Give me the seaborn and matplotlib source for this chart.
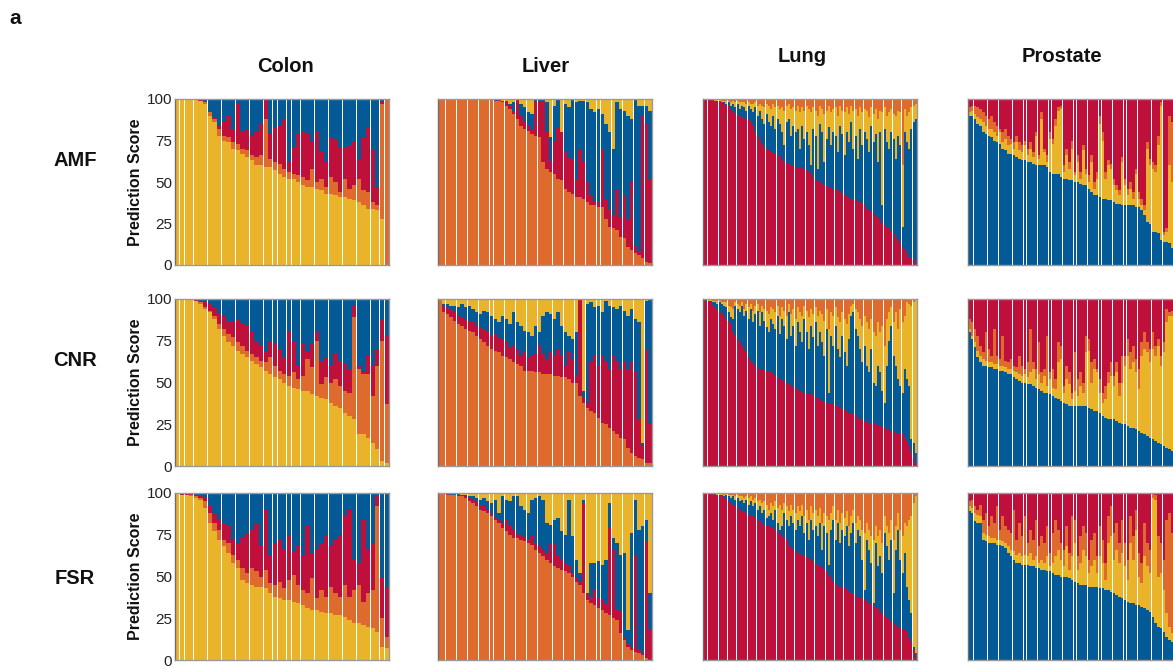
import numpy as np
import matplotlib
matplotlib.use("Agg")
import matplotlib.pyplot as plt
import seaborn as sns

# ---------------------------------------------------------------------------
# Tissue classes and colours
tissues = ["Colon", "Liver", "Lung", "Prostate"]
methods = ["AMF", "CNR", "FSR"]
tissue_colors = {"Colon": "#EAB42A", "Liver": "#DE6A2E", "Lung": "#BF0F3B", "Prostate": "#045A96"}

# Cumulative prediction-score boundaries (%) per sample, bottom to top.
# c1 = true-class score, c2 / c3 = tops of the next two stacked classes;
# the remaining class fills the bar up to 100.

# Colon
colon_amf_c1 = [100,100,100,100,100,99,97,90,86,78,75,74,70,69,67,65,63,60,60,59,59,57,55,53,52,52,50,48,47,47,46,45,43,43,42,41,41,40,39,38,36,34,34,33,28,0]
colon_amf_c2 = [100,100,100,100,100,99,98,92,88,82,78,77,74,73,70,69,66,65,66,88,64,62,61,58,56,55,54,53,51,58,50,52,47,53,50,44,52,46,48,52,45,44,38,36,97,100]
colon_amf_c3 = [100,100,100,100,100,100,99,93,89,84,87,90,82,97,80,82,78,80,85,100,79,83,84,88,62,71,79,80,79,74,80,68,62,77,76,71,71,72,75,63,77,83,70,47,98,100]

colon_cnr_c1 = [100,100,100,100,99,97,94,92,88,82,78,74,72,69,67,65,63,61,59,57,55,53,52,50,48,47,46,45,45,43,42,41,40,38,36,35,32,30,28,19,19,17,14,10,3,2]
colon_cnr_c2 = [100,100,100,100,99,98,95,93,90,85,82,79,77,74,72,69,67,65,63,62,65,60,57,55,54,56,52,54,64,59,75,49,53,50,52,48,45,44,89,58,55,55,42,60,75,37]
colon_cnr_c3 = [100,100,100,100,100,99,98,97,95,91,90,87,86,88,85,84,80,75,72,68,74,73,70,65,80,74,60,73,68,73,80,63,65,60,67,63,61,58,96,60,57,66,60,70,88,78]

colon_fsr_c1 = [100,99,99,98,97,96,91,82,77,72,68,64,58,55,48,46,45,44,44,43,40,38,37,36,36,35,34,33,31,30,30,29,28,28,27,27,26,24,22,22,21,20,19,17,8,7]
colon_fsr_c2 = [100,99,99,99,98,97,95,88,82,78,72,70,63,60,55,52,55,53,50,54,46,45,47,43,48,51,45,42,40,49,37,42,38,44,40,38,45,38,42,45,35,40,42,92,25,14]
colon_fsr_c3 = [100,100,100,100,99,99,97,92,88,84,82,80,72,70,73,76,78,82,68,90,62,70,72,66,74,65,68,62,80,64,66,70,74,68,72,75,86,90,60,58,84,66,70,98,49,44]

# Liver
liver_amf_c1 = [100,100,100,100,100,100,100,100,100,100,100,100,100,100,100,99,99,98,96,94,91,88,84,82,81,79,78,77,62,58,56,55,52,51,46,44,43,41,41,40,38,36,36,35,35,28,23,22,21,17,16,11,9,7,6,4,2,1]
liver_amf_c2 = [100,100,100,100,100,100,100,100,100,100,100,100,100,100,100,99,100,99,98,96,93,100,90,87,84,82,99,98,98,80,62,75,83,80,68,65,64,52,70,62,50,42,38,38,70,40,34,30,45,29,42,27,50,12,8,90,85,52]
liver_amf_c3 = [100,100,100,100,100,100,100,100,100,100,100,100,100,100,100,100,100,99,99,97,98,100,97,95,92,91,100,100,100,98,77,96,100,72,97,95,100,98,99,99,98,94,92,94,91,85,80,70,98,94,93,90,88,100,96,96,96,93]

liver_cnr_c1 = [100,92,91,89,87,85,84,82,81,80,78,76,74,72,70,69,68,66,65,64,62,61,60,57,57,57,56,56,55,55,55,54,54,53,53,52,50,50,42,38,35,33,32,29,26,25,23,21,19,17,16,11,8,6,5,4,2,2]
liver_cnr_c2 = [100,96,95,94,92,90,89,88,86,86,84,83,82,81,78,79,77,76,74,71,72,70,66,68,65,66,67,72,67,64,68,66,70,66,60,68,64,54,100,41,37,62,66,60,66,62,58,66,62,58,62,58,62,56,28,12,70,25]
liver_cnr_c3 = [100,97,97,96,96,95,97,95,96,94,92,91,93,92,90,88,86,90,88,85,92,86,84,81,80,78,84,80,90,92,91,88,92,84,80,78,76,80,100,45,97,98,95,96,92,99,96,95,94,96,93,90,94,88,86,14,99,100]

liver_fsr_c1 = [100,100,99,99,99,98,98,97,95,94,92,90,89,88,86,84,82,79,77,75,73,73,72,71,70,69,66,64,62,60,58,56,55,54,53,52,50,47,45,40,36,34,33,31,30,28,27,25,24,16,12,8,6,5,4,3,1,0]
liver_fsr_c2 = [100,100,100,99,99,99,99,98,97,96,95,93,92,90,88,85,84,82,84,80,78,76,75,73,72,74,70,68,66,64,70,70,62,60,58,56,52,50,47,94,40,38,42,37,36,34,79,66,30,29,14,10,7,62,6,4,71,18]
liver_fsr_c3 = [100,100,100,100,100,100,99,99,98,98,97,96,97,95,94,96,88,98,96,95,98,98,92,90,88,96,97,98,96,82,81,84,85,77,75,96,74,60,52,96,40,58,58,59,57,60,94,73,70,63,64,18,76,96,78,80,84,40]

# Lung
lung_amf_c1 = [100,100,100,100,100,99,99,98,98,97,96,96,94,92,91,90,90,89,89,88,
               88,87,84,81,78,76,73,71,70,69,68,67,67,66,66,64,62,61,61,60,
               60,59,59,59,59,58,57,56,55,53,52,50,50,49,48,48,47,47,46,46,
               45,44,43,42,42,41,40,40,39,38,38,37,36,34,33,32,31,30,29,27,
               25,24,23,22,20,19,17,15,13,11,9,7,5,4,3,1]
lung_amf_c2 = [100,100,100,99,99,99,99,99,98,98,97,98,96,97,95,97,94,96,95,93,
               96,94,92,95,90,93,88,85,91,86,84,90,82,88,85,80,72,86,88,78,
               84,80,82,70,84,76,80,72,60,82,78,58,85,80,62,76,83,72,80,78,
               68,84,79,66,80,74,86,70,78,64,82,72,80,76,68,84,74,79,62,80,
               36,82,74,70,80,76,64,78,72,23,80,74,70,82,86,88]
lung_amf_c3 = [100,100,100,100,100,100,100,100,99,99,99,99,98,99,98,99,98,98,98,97,
               98,97,97,98,96,97,96,95,97,96,94,97,95,96,94,95,93,96,97,94,
               95,93,96,92,95,93,96,94,92,95,93,90,96,94,91,93,96,92,94,95,
               90,96,93,92,95,91,96,93,94,90,95,92,94,93,89,95,91,94,88,93,
               92,95,90,92,94,91,90,93,92,60,94,90,92,95,96,97]

lung_cnr_c1 = [100,99,98,98,96,95,94,93,91,90,88,87,85,81,78,76,74,72,70,68,
               65,63,61,60,59,58,58,58,57,57,56,55,54,53,52,52,51,50,49,48,
               47,47,46,45,45,44,44,43,43,42,41,41,40,39,39,38,38,37,37,36,
               36,35,34,34,33,32,32,31,30,29,28,28,27,27,26,26,25,25,24,24,
               23,23,22,22,21,21,20,20,20,19,17,15,12,9,5,1]
lung_cnr_c2 = [100,100,99,99,98,98,97,98,97,96,95,92,89,88,96,94,92,96,90,93,
               88,94,86,91,93,84,92,87,83,80,88,85,82,90,79,88,84,76,92,78,
               84,72,86,80,74,88,80,70,84,77,86,72,80,74,66,82,44,78,72,84,
               70,65,78,68,60,76,90,92,82,78,70,62,72,60,56,70,50,48,60,56,
               45,38,60,75,84,66,60,52,48,44,58,52,48,16,14,8]
lung_cnr_c3 = [100,100,100,100,99,99,99,99,98,98,98,96,95,94,98,97,96,98,94,97,
               95,97,93,96,97,92,96,94,93,91,95,94,92,96,90,95,93,90,97,91,
               94,88,95,92,90,96,93,89,94,91,95,90,93,91,87,94,82,92,90,95,
               89,86,92,88,85,91,96,97,94,92,88,84,90,86,82,88,80,78,86,80,
               84,72,88,92,95,86,92,82,94,86,90,98,97,96,98,100]

lung_fsr_c1 = [100,100,100,100,100,99,99,98,98,97,96,95,94,93,92,91,90,89,89,88,
               87,87,86,85,84,83,82,81,81,80,79,79,78,77,76,75,73,72,69,67,
               66,65,64,64,63,62,61,61,60,59,58,57,56,55,54,53,51,49,47,46,
               45,44,44,43,42,41,40,40,39,38,37,37,36,35,34,34,33,32,31,29,
               28,27,25,24,23,22,21,20,19,18,18,17,14,11,6,2]
lung_fsr_c2 = [100,100,100,100,100,100,99,99,99,98,99,98,97,98,96,97,95,96,94,96,
               93,95,92,94,90,92,88,90,85,86,88,84,90,82,78,80,88,84,80,86,
               82,78,84,80,86,76,82,72,84,78,80,74,82,66,80,76,57,78,84,72,
               82,70,78,74,80,68,76,82,70,78,74,60,42,72,66,58,34,70,56,62,
               52,76,68,60,72,40,66,78,60,52,64,44,36,28,8,4]
lung_fsr_c3 = [100,100,100,100,100,100,100,100,100,99,100,99,99,99,98,99,98,98,97,98,
               97,98,96,97,95,96,94,95,93,90,94,92,95,91,93,90,94,92,89,93,
               90,88,92,89,93,86,90,84,92,88,90,86,91,82,88,86,84,88,92,84,
               90,82,88,85,89,80,86,90,82,86,84,78,76,82,78,74,72,80,74,78,
               70,86,80,76,84,72,80,88,78,74,82,80,84,86,94,98]

# Prostate (the last slots of the panel run past the figure edge)
prostate_amf_c1 = [90,90,88,85,84,80,79,78,77,75,74,73,70,69,67,67,66,65,64,63,
                   63,62,62,61,60,60,60,60,59,56,55,55,55,53,52,52,51,51,50,50,
                   49,48,48,46,44,42,42,41,40,40,39,39,38,37,37,36,36,36,36,36,
                   35,35,33,30,26,25,20,20,19,15,14,14,13,10]
prostate_amf_c2 = [92,93,91,89,88,86,84,82,82,80,78,80,74,76,72,73,70,74,69,68,
                   72,66,70,65,78,64,88,68,62,76,73,84,93,94,56,66,58,70,54,62,
                   52,69,55,50,62,46,52,85,75,52,60,58,48,45,42,62,48,42,46,40,
                   55,40,36,33,70,60,58,56,72,96,18,20,60,50]
prostate_amf_c3 = [95,96,96,95,94,92,90,88,90,86,84,82,80,82,78,76,74,78,74,72,
                   75,70,74,68,80,66,92,70,66,80,76,88,95,96,60,70,62,75,56,66,
                   56,72,58,54,66,50,56,90,80,56,63,61,52,48,45,65,52,46,50,44,
                   58,44,40,36,74,64,62,60,78,98,20,22,90,86]

prostate_cnr_c1 = [80,76,71,65,62,60,60,59,59,58,58,57,57,56,55,55,53,52,51,50,
                   50,49,49,48,47,46,45,44,44,43,42,41,40,39,38,37,36,36,36,36,
                   36,36,36,35,34,33,33,32,30,29,28,28,28,27,26,25,25,24,23,23,
                   22,21,20,19,18,17,16,15,14,13,12,11,10,9]
prostate_cnr_c2 = [82,78,74,69,66,64,63,62,62,61,61,60,60,59,58,58,57,56,55,54,
                   55,53,56,58,52,55,50,54,48,52,47,46,62,64,44,52,49,40,45,42,
                   48,44,68,69,50,58,56,44,38,40,50,54,48,56,42,50,60,66,58,62,
                   56,46,66,70,68,62,70,66,72,60,68,86,90,90]
prostate_cnr_c3 = [88,86,82,78,72,68,80,70,66,82,66,64,78,63,62,64,60,59,66,60,
                   58,62,82,62,58,74,56,58,78,56,58,52,74,72,48,60,56,44,68,52,
                   56,50,78,76,62,64,58,52,44,48,56,62,54,62,50,66,66,76,68,72,
                   64,58,74,80,74,70,80,72,76,66,74,94,92,93]

prostate_fsr_c1 = [89,88,83,82,82,72,71,70,70,70,69,69,68,67,64,62,60,58,58,57,
                   57,57,56,56,55,55,54,54,53,53,52,51,51,50,50,50,49,48,47,46,
                   45,45,45,44,44,44,44,43,43,42,42,41,40,39,38,37,36,35,34,34,
                   33,33,32,31,30,29,26,22,20,19,17,14,12,11]
prostate_fsr_c2 = [92,91,88,87,86,76,75,74,73,73,72,72,71,70,68,66,65,63,64,62,
                   63,62,64,60,62,58,60,58,62,56,58,62,66,60,56,68,54,62,70,54,
                   58,66,62,52,56,60,52,62,58,48,70,74,60,66,58,64,56,48,70,60,
                   78,50,46,62,56,52,97,96,50,52,42,28,20,16]
prostate_fsr_c3 = [95,96,92,90,93,84,88,80,86,82,92,78,86,80,78,76,90,72,82,74,
                   86,70,78,72,84,68,74,70,80,64,76,84,78,70,66,80,64,86,84,62,
                   74,80,76,60,72,76,62,80,72,58,86,92,76,82,70,84,70,60,86,74,
                   90,64,58,82,70,66,100,99,74,70,60,84,88,76]

panel_data = {
    ("AMF", "Colon"): (colon_amf_c1, colon_amf_c2, colon_amf_c3),
    ("CNR", "Colon"): (colon_cnr_c1, colon_cnr_c2, colon_cnr_c3),
    ("FSR", "Colon"): (colon_fsr_c1, colon_fsr_c2, colon_fsr_c3),
    ("AMF", "Liver"): (liver_amf_c1, liver_amf_c2, liver_amf_c3),
    ("CNR", "Liver"): (liver_cnr_c1, liver_cnr_c2, liver_cnr_c3),
    ("FSR", "Liver"): (liver_fsr_c1, liver_fsr_c2, liver_fsr_c3),
    ("AMF", "Lung"): (lung_amf_c1, lung_amf_c2, lung_amf_c3),
    ("CNR", "Lung"): (lung_cnr_c1, lung_cnr_c2, lung_cnr_c3),
    ("FSR", "Lung"): (lung_fsr_c1, lung_fsr_c2, lung_fsr_c3),
    ("AMF", "Prostate"): (prostate_amf_c1, prostate_amf_c2, prostate_amf_c3),
    ("CNR", "Prostate"): (prostate_cnr_c1, prostate_cnr_c2, prostate_cnr_c3),
    ("FSR", "Prostate"): (prostate_fsr_c1, prostate_fsr_c2, prostate_fsr_c3),
}
# number of sample slots on each tissue's x axis
slots = {"Colon": 46, "Liver": 58, "Lung": 96, "Prostate": 77}
y_ticks = [0, 25, 50, 75, 100]

# ---------------------------------------------------------------------------
sns.set_theme(style="white")
plt.rcParams["font.family"] = ["Liberation Sans", "DejaVu Sans"]

W, H = 1173, 669
fig = plt.figure(figsize=(W / 100, H / 100), dpi=100)
fig.patch.set_facecolor("white")

col_left = {"Colon": 175, "Liver": 438, "Lung": 703, "Prostate": 968}
col_width = 214
row_span = {"AMF": (99, 265), "CNR": (299, 466), "FSR": (493, 660)}


def stack_order(tissue):
    k = tissues.index(tissue)
    return tissues[k:] + tissues[:k]


for method in methods:
    top, bottom = row_span[method]
    for tissue in tissues:
        ax = fig.add_axes([col_left[tissue] / W, 1 - bottom / H,
                           col_width / W, (bottom - top) / H])
        c1, c2, c3 = (np.asarray(v, dtype=float) for v in panel_data[(method, tissue)])
        c2 = np.maximum(c2, c1)
        c3 = np.maximum(c3, c2)
        n = len(c1)
        x = np.arange(n)
        order = stack_order(tissue)
        heights = [np.full(n, 100.0), c3, c2, c1]
        for h, cls in zip(heights, order[::-1]):
            sns.barplot(x=x, y=h, color=tissue_colors[cls], saturation=1,
                        width=0.9, linewidth=0, errorbar=None, ax=ax)
        ax.set_xlim(-0.5, slots[tissue] - 0.5)
        ax.set_ylim(0, 100)
        ax.set_xticks([])
        ax.set_xlabel("")
        ax.set_ylabel("")
        for side, sp in ax.spines.items():
            sp.set_visible(True)
            sp.set_color("#9a9a9a")
            sp.set_linewidth(1.0)
        ax.spines["left"].set_color("#6e6e6e")
        if tissue == "Colon":
            ax.set_yticks(y_ticks)
            ax.set_yticklabels([str(t) for t in y_ticks])
            ax.tick_params(axis="y", length=0, pad=2, labelsize=11, labelcolor="#222222")
        else:
            ax.set_yticks([])
        if tissue == "Colon":
            fig.text(135 / W, 1 - (top + bottom) / 2 / H, "Prediction Score",
                     rotation=90, ha="center", va="center",
                     fontsize=11.5, fontweight="bold", color="#111111")
    fig.text(75 / W, 1 - {"AMF": 160, "CNR": 360, "FSR": 578}[method] / H, method,
             ha="center", va="center", fontsize=14.5, fontweight="bold", color="#111111")

title_pos = {"Colon": (285, 67), "Liver": (546, 67), "Lung": (802, 56), "Prostate": (1062, 56)}
for tissue, (tx, ty) in title_pos.items():
    fig.text(tx / W, 1 - ty / H, tissue, ha="center", va="center",
             fontsize=14.5, fontweight="bold", color="#111111")

fig.text(15 / W, 1 - 18 / H, "a", ha="center", va="center",
         fontsize=15, fontweight="bold", color="#111111")

fig.savefig("out.png", dpi=100, facecolor="white")
